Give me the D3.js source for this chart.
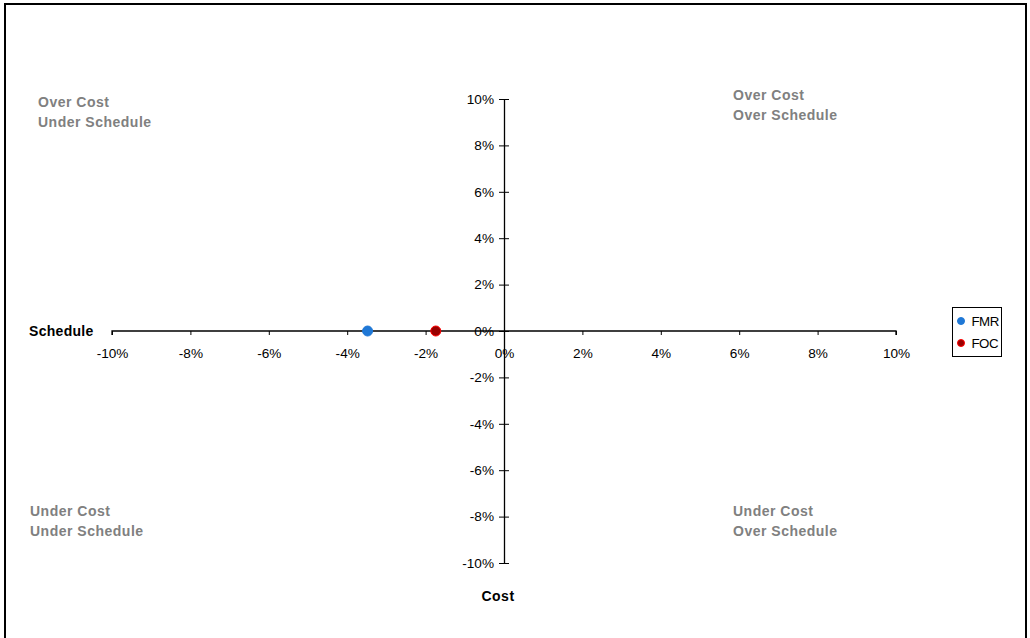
<!DOCTYPE html>
<html>
<head>
<meta charset="utf-8">
<script src="https://cdn.jsdelivr.net/npm/d3@7"></script>
<style>
  html, body { margin: 0; padding: 0; background: #fff; }
  svg { display: block; font-family: Arial, "Liberation Sans", sans-serif; }
</style>
</head>
<body>
<svg id="chart" width="1030" height="638"></svg>
<script>
// Cost / schedule variance by series
const seriesNames = ["FMR", "FOC"];
const scheduleVariance = [-0.0348, -0.0174];
const costVariance = [0, 0];
const seriesFill = ["#1f78d6", "#990000"];
const seriesStroke = ["#1f78d6", "#ff0000"];

const axisTicks = [-0.1, -0.08, -0.06, -0.04, -0.02, 0, 0.02, 0.04, 0.06, 0.08, 0.1];

const quadrantLabels = [
  ["Over Cost", "Under Schedule"],
  ["Over Cost", "Over Schedule"],
  ["Under Cost", "Under Schedule"],
  ["Under Cost", "Over Schedule"]
];

const svg = d3.select("#chart");

// outer frame
svg.append("rect")
  .attr("x", 5).attr("y", 4)
  .attr("width", 1021).attr("height", 640)
  .attr("fill", "none").attr("stroke", "#000").attr("stroke-width", 2);

const x = d3.scaleLinear().domain([-0.1, 0.1]).range([112, 896]);
const y = d3.scaleLinear().domain([-0.1, 0.1]).range([563, 99]);
const pct = v => d3.format(".0%")(v).replace("\u2212", "-");

// horizontal (schedule) axis through zero cost
const xAxis = svg.append("g")
  .attr("transform", `translate(0,${y(0)})`)
  .call(d3.axisBottom(x).tickValues(axisTicks).tickFormat(pct)
    .tickSize(4).tickPadding(13));

// vertical (cost) axis through zero schedule
const yAxis = svg.append("g")
  .attr("transform", `translate(${x(0)},0)`)
  .call(d3.axisLeft(y).tickValues(axisTicks).tickFormat(pct)
    .tickSize(5).tickPadding(5).tickSizeOuter(0));
yAxis.selectAll(".tick line").attr("x2", 5).attr("x1", -5);

[xAxis, yAxis].forEach(g => {
  g.selectAll(".domain").attr("stroke", "#000").attr("stroke-width", 1.3);
  g.selectAll(".tick line").attr("stroke", "#000");
  g.selectAll("text").attr("font-size", 13.6).attr("fill", "#000")
    .attr("font-family", "Arial, 'Liberation Sans', sans-serif");
});
xAxis.select(".domain").attr("d", `M${x(-0.1)},4V0H${x(0.1)}V4`);

// axis titles
svg.append("text").attr("x", 29).attr("y", y(0) + 5)
  .attr("font-size", 14).attr("font-weight", "bold").attr("letter-spacing", 0.3).text("Schedule");
svg.append("text").attr("x", 498).attr("y", 601)
  .attr("text-anchor", "middle").attr("font-size", 14).attr("font-weight", "bold")
  .attr("letter-spacing", 0.5).text("Cost");

// quadrant captions
const quadrantPos = [[38, 107], [733, 100], [30, 516], [733, 516]];
quadrantLabels.forEach((lines, i) => {
  const t = svg.append("text")
    .attr("x", quadrantPos[i][0]).attr("y", quadrantPos[i][1])
    .attr("font-size", 14).attr("font-weight", "bold")
    .attr("fill", "#808080").attr("letter-spacing", 0.5);
  lines.forEach((s, j) => {
    t.append("tspan").attr("x", quadrantPos[i][0]).attr("dy", j === 0 ? 0 : 19.5).text(s);
  });
});

// data points
svg.append("g").selectAll("circle")
  .data(seriesNames)
  .join("circle")
  .attr("cx", (d, i) => x(scheduleVariance[i]))
  .attr("cy", (d, i) => y(costVariance[i]))
  .attr("r", 5)
  .attr("fill", (d, i) => seriesFill[i])
  .attr("stroke", (d, i) => seriesStroke[i])
  .attr("stroke-width", 1);

// legend
const legend = svg.append("g");
legend.append("rect")
  .attr("x", 952.5).attr("y", 307.5).attr("width", 49).attr("height", 49)
  .attr("fill", "#fff").attr("stroke", "#000").attr("stroke-width", 1);
seriesNames.forEach((name, i) => {
  const cy = 321 + i * 22;
  legend.append("circle").attr("cx", 961).attr("cy", cy).attr("r", 3.5)
    .attr("fill", seriesFill[i]).attr("stroke", seriesStroke[i]).attr("stroke-width", 1);
  legend.append("text").attr("x", 971.5).attr("y", cy + 4.5)
    .attr("font-size", 13.3).attr("letter-spacing", -0.5).text(name);
});
</script>
</body>
</html>
